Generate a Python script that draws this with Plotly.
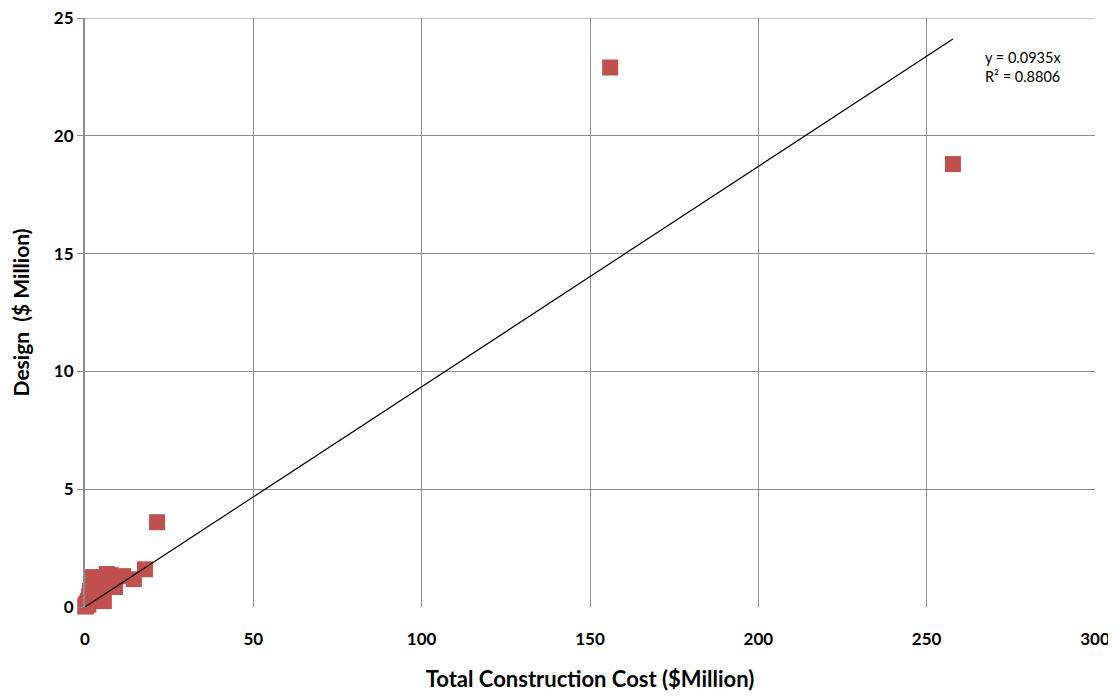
import plotly.graph_objects as go

# Data ($ Million)
total_cost = [156.0, 257.8, 21.4, 17.8, 14.5, 11.3, 7.7, 6.5, 2.4, 8.9, 4.5,
              3.0, 5.6, 1.5, 0.9, 0.3, 0.1, 1.2, 2.0, 0.5, 3.5, 0.2, 1.0, 4.0]
design = [22.9, 18.8, 3.6, 1.6, 1.18, 1.31, 1.35, 1.40, 1.27, 0.85, 0.89,
          0.42, 0.25, 0.68, 0.25, 0.04, 0.02, 0.45, 0.6, 0.15, 0.7, 0.08, 0.1, 0.55]
slope = 0.0935
r2 = 0.8806
y_ticks = [0, 5, 10, 15, 20, 25]
trend_x = [0, max(total_cost)]
trend_y = [slope * v for v in trend_x]

font_family = "Lato, 'Open Sans', sans-serif"

fig = go.Figure()
fig.add_trace(go.Scatter(
    x=total_cost, y=design, mode="markers",
    marker=dict(symbol="square", size=16, color="#C0504D"),
    cliponaxis=False, showlegend=False))
fig.add_trace(go.Scatter(
    x=trend_x, y=trend_y, mode="lines",
    line=dict(color="black", width=1.2), showlegend=False, cliponaxis=False))

fig.add_annotation(x=290.5, y=23.75, xref="x", yref="y", xanchor="right",
                   yanchor="top", align="left", showarrow=False,
                   text=f"y = {slope}x<br>R² = {r2}",
                   font=dict(family=font_family, size=14.5, color="black"))

# top gridline (edge of the plot area)
fig.add_shape(type="line", xref="paper", yref="y", x0=0, x1=1,
              y0=y_ticks[-1], y1=y_ticks[-1], line=dict(color="#8C8C8C", width=1),
              layer="below")

fig.update_layout(
    width=1116, height=696,
    margin=dict(l=77, r=29, t=10, b=97, autoexpand=False),
    paper_bgcolor="white", plot_bgcolor="white",
    font=dict(family=font_family, color="black"),
    xaxis=dict(range=[0, 300], dtick=50, showgrid=True, gridcolor="#8C8C8C",
               gridwidth=1, zeroline=False, showline=False, automargin=False,
               ticks="", tickfont=dict(size=17, family=font_family, weight="bold"),
               ticklabelstandoff=20,
               title=dict(text="<b>Total Construction Cost ($Million)</b>",
                          font=dict(size=22), standoff=23)),
    yaxis=dict(range=[0, 25], tickvals=y_ticks,
               showgrid=True, gridcolor="#8C8C8C", ticklabeloverflow="allow",
               gridwidth=1, zeroline=False, showline=True, linecolor="#8C8C8C",
               linewidth=2, ticks="outside", ticklen=6, tickcolor="#8C8C8C",
               automargin=False,
               tickfont=dict(size=17, family=font_family, weight="bold"),
               title=dict(text="<b>Design  ($ Million)</b>", font=dict(size=21),
                          standoff=20)),
)
fig.write_html("out.html")
